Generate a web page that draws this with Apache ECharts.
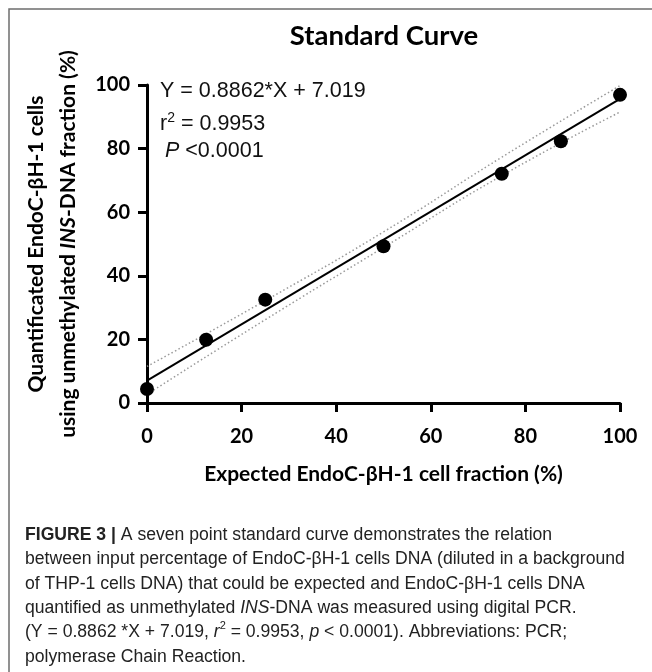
<!DOCTYPE html>
<html>
<head>
<meta charset="utf-8">
<script src="https://cdn.jsdelivr.net/npm/echarts@6/dist/echarts.min.js"></script>
<style>
  html, body { margin: 0; padding: 0; background: #fff; }
  #main { width: 652px; height: 672px; }
</style>
</head>
<body>
<div id="main"></div>
<script>
// measured points: expected fraction (%) vs quantified fraction (%)
var expectedPct = [0, 12.5, 25, 50, 75, 87.5, 100];
var measuredPct = [4.4, 19.9, 32.5, 49.3, 72.1, 82.3, 96.9];

// regression line end points
var fitX = [0, 100];
var fitY = [7.02, 95.64];

// 95% band (dotted)
var bandX = [0, 25, 50, 75, 100];
var bandUpper = [11.5, 32.2, 53.8, 77.3, 99.8];
var bandLower = [2.7, 26.2, 48.9, 71.5, 91.5];

var axisTicks = [0, 20, 40, 60, 80, 100];

var captionLines = [
  '{b|FIGURE 3 |} A seven point standard curve demonstrates the relation',
  'between input percentage of EndoC-βH-1 cells DNA (diluted in a background',
  'of THP-1 cells DNA) that could be expected and EndoC-βH-1 cells DNA',
  'quantified as unmethylated {i|INS}-DNA was measured using digital PCR.',
  '(Y = 0.8862 *X + 7.019, {i|r}{s|2} = 0.9953, {i|p} < 0.0001). Abbreviations: PCR;',
  'polymerase Chain Reaction.'
];

function pairs(xs, ys) {
  var out = [];
  for (var i = 0; i < xs.length; i++) out.push([xs[i], ys[i]]);
  return out;
}

var chart = echarts.init(document.getElementById('main'));
var boldFont = 'Lato, "Noto Sans", sans-serif';
var capFont = '"Liberation Sans", Arial, sans-serif';

var option = {
  backgroundColor: '#fff',
  animation: false,
  textStyle: { fontFamily: boldFont },
  title: {
    text: 'Standard Curve',
    left: 384,
    top: 22,
    textAlign: 'center',
    padding: 0,
    textStyle: { fontFamily: boldFont, fontWeight: 'bold', fontSize: 27.5, color: '#000' }
  },
  grid: { left: 147, right: 32, top: 85, bottom: 269 },
  xAxis: {
    type: 'value',
    min: axisTicks[0],
    max: axisTicks[axisTicks.length - 1],
    interval: 20,
    name: 'Expected EndoC-βH-1 cell fraction (%)',
    nameLocation: 'middle',
    nameGap: 61,
    nameTextStyle: { fontFamily: boldFont, fontWeight: 'bold', fontSize: 21, color: '#000' },
    axisLine: { onZero: false, lineStyle: { color: '#000', width: 3 } },
    axisTick: { length: 9, lineStyle: { color: '#000', width: 3 } },
    axisLabel: { margin: 24, fontFamily: boldFont, fontWeight: 'bold', fontSize: 20, color: '#000' },
    splitLine: { show: false }
  },
  yAxis: {
    type: 'value',
    min: axisTicks[0],
    max: axisTicks[axisTicks.length - 1],
    interval: 20,
    name: 'Quantificated EndoC-βH-1 cells\nusing unmethylated {i|INS}-DNA fraction (%)',
    nameLocation: 'middle',
    nameGap: 59,
    nameTextStyle: {
      fontFamily: boldFont, fontWeight: 'bold', fontSize: 21, lineHeight: 32, color: '#000',
      rich: {
        i: { fontFamily: boldFont, fontWeight: 'bold', fontStyle: 'italic', fontSize: 21, lineHeight: 32, color: '#000' }
      }
    },
    axisLine: { onZero: false, lineStyle: { color: '#000', width: 3 } },
    axisTick: { length: 9, lineStyle: { color: '#000', width: 3 } },
    axisLabel: { margin: 17, fontFamily: boldFont, fontWeight: 'bold', fontSize: 20, color: '#000' },
    splitLine: { show: false }
  },
  series: [
    {
      name: 'upper band',
      type: 'line',
      data: pairs(bandX, bandUpper),
      symbol: 'none',
      smooth: true,
      lineStyle: { color: '#9a9a9a', width: 1.5, type: [1.5, 2.5] },
      z: 2
    },
    {
      name: 'lower band',
      type: 'line',
      data: pairs(bandX, bandLower),
      symbol: 'none',
      smooth: true,
      lineStyle: { color: '#9a9a9a', width: 1.5, type: [1.5, 2.5] },
      z: 2
    },
    {
      name: 'fit',
      type: 'line',
      data: pairs(fitX, fitY),
      symbol: 'none',
      lineStyle: { color: '#000', width: 2 },
      z: 3
    },
    {
      name: 'measured',
      type: 'scatter',
      data: pairs(expectedPct, measuredPct),
      symbol: 'circle',
      symbolSize: 14,
      itemStyle: { color: '#000', opacity: 1 },
      z: 4
    }
  ],
  graphic: [
    {
      type: 'rect',
      shape: { x: 9, y: 9, width: 700, height: 700 },
      style: { fill: 'transparent', stroke: '#6e6e6e', lineWidth: 1.5 },
      silent: true,
      z: -1
    },
    {
      type: 'text',
      left: 160,
      top: 79,
      style: {
        text: 'Y = 0.8862*X + 7.019',
        fontFamily: capFont, fontSize: 21.5, lineHeight: 25, fill: '#111'
      }
    },
    {
      type: 'text',
      left: 160,
      top: 111,
      style: {
        text: 'r{s|2} = 0.9953',
        fontFamily: capFont, fontSize: 21.5, lineHeight: 27, fill: '#111',
        rich: {
          s: { fontFamily: capFont, fontSize: 14, lineHeight: 10, verticalAlign: 'top', fill: '#111' }
        }
      }
    },
    {
      type: 'text',
      left: 165,
      top: 139,
      style: {
        text: '{i|P} <0.0001',
        fontFamily: capFont, fontSize: 21.5, lineHeight: 25, fill: '#111',
        rich: {
          i: { fontFamily: capFont, fontStyle: 'italic', fontSize: 21.5, lineHeight: 25, fill: '#111' }
        }
      }
    },
    {
      type: 'text',
      left: 25,
      top: 523,
      style: {
        text: captionLines.join('\n'),
        fontFamily: capFont, fontSize: 17.6, lineHeight: 24.3, fill: '#222',
        rich: {
          b: { fontFamily: capFont, fontWeight: 'bold', fontSize: 17.6, lineHeight: 24.3, fill: '#222' },
          i: { fontFamily: capFont, fontStyle: 'italic', fontSize: 17.6, lineHeight: 24.3, fill: '#222' },
          s: { fontFamily: capFont, fontSize: 11, lineHeight: 12, verticalAlign: 'top', fill: '#222' }
        }
      }
    }
  ]
};

chart.setOption(option);
</script>
</body>
</html>
